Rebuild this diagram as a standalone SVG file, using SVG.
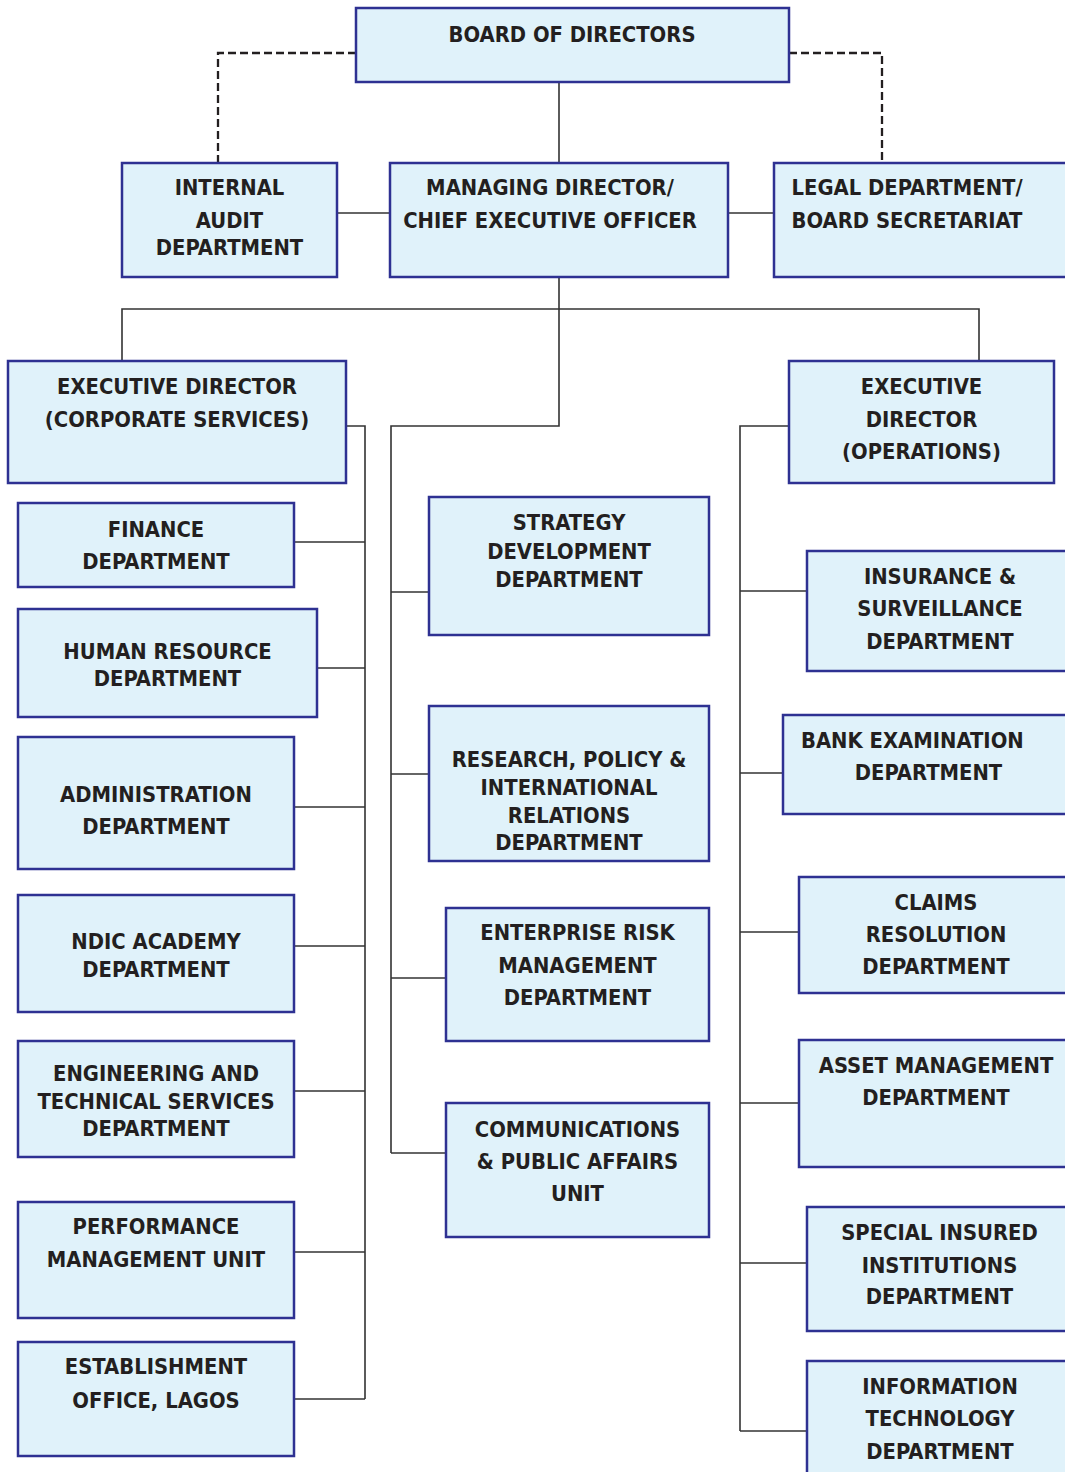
<svg xmlns="http://www.w3.org/2000/svg" width="1065" height="1472" viewBox="0 0 1065 1472">
  <style>
    .box { fill: #e0f2fa; stroke: #2e3192; stroke-width: 2.5; }
    .lbl { font-family: "DejaVu Sans Condensed", "DejaVu Sans", sans-serif; font-stretch: condensed; font-weight: bold; font-size: 21.8px; fill: #231f20; text-anchor: middle; }
    .left { text-anchor: start; }
    .wire { fill: none; stroke: #333333; stroke-width: 1.6; }
    .dash { fill: none; stroke: #231f20; stroke-width: 2.3; stroke-dasharray: 8 4; }
  </style>
  <rect width="1065" height="1472" fill="#ffffff"/>

  <!-- connectors -->
  <g id="connectors">
    <path class="dash" d="M356 53 H218 V162"/>
    <path class="dash" d="M789 53 H882 V162"/>
    <path class="wire" d="M559 83 V162"/>
    <path class="wire" d="M337 213 H390"/>
    <path class="wire" d="M728 213 H774"/>
    <path class="wire" d="M559 278 V426 H391 V1153"/>
    <path class="wire" d="M122 361 V309 H979 V361"/>
    <!-- corporate services branch -->
    <path class="wire" d="M346 426 H365 V1399"/>
    <path class="wire" d="M294 542 H365"/>
    <path class="wire" d="M317 668 H365"/>
    <path class="wire" d="M294 807 H365"/>
    <path class="wire" d="M294 946 H365"/>
    <path class="wire" d="M294 1091 H365"/>
    <path class="wire" d="M294 1252 H365"/>
    <path class="wire" d="M294 1399 H365"/>
    <!-- managing director branch -->
    <path class="wire" d="M391 592 H429"/>
    <path class="wire" d="M391 774 H429"/>
    <path class="wire" d="M391 978 H446"/>
    <path class="wire" d="M391 1153 H446"/>
    <!-- operations branch -->
    <path class="wire" d="M789 426 H740 V1431"/>
    <path class="wire" d="M740 591 H807"/>
    <path class="wire" d="M740 773 H783"/>
    <path class="wire" d="M740 932 H799"/>
    <path class="wire" d="M740 1103 H799"/>
    <path class="wire" d="M740 1263 H807"/>
    <path class="wire" d="M740 1431 H807"/>
  </g>

  <g id="board">
    <rect class="box" x="356" y="8" width="433" height="74"/>
    <text class="lbl" x="572" y="41.5">BOARD OF DIRECTORS</text>
  </g>
  <g id="internal-audit">
    <rect class="box" x="122" y="163" width="215" height="114"/>
    <text class="lbl" x="229.5" y="195">INTERNAL</text>
    <text class="lbl" x="229.5" y="227.5">AUDIT</text>
    <text class="lbl" x="229.5" y="255">DEPARTMENT</text>
  </g>
  <g id="md-ceo">
    <rect class="box" x="390" y="163" width="338" height="114"/>
    <text class="lbl" x="550" y="195">MANAGING DIRECTOR/</text>
    <text class="lbl" x="550" y="227.5">CHIEF EXECUTIVE OFFICER</text>
  </g>
  <g id="legal">
    <rect class="box" x="774" y="163" width="300" height="114"/>
    <text class="lbl left" x="791.5" y="195">LEGAL DEPARTMENT/</text>
    <text class="lbl left" x="791.5" y="227.5">BOARD SECRETARIAT</text>
  </g>

  <g id="ed-corporate">
    <rect class="box" x="8" y="361" width="338" height="122"/>
    <text class="lbl" x="177" y="394">EXECUTIVE DIRECTOR</text>
    <text class="lbl" x="177" y="426.5">(CORPORATE SERVICES)</text>
  </g>
  <g id="ed-operations">
    <rect class="box" x="789" y="361" width="265" height="122"/>
    <text class="lbl" x="921.5" y="394">EXECUTIVE</text>
    <text class="lbl" x="921.5" y="426.5">DIRECTOR</text>
    <text class="lbl" x="921.5" y="459">(OPERATIONS)</text>
  </g>

  <g id="finance">
    <rect class="box" x="18" y="503" width="276" height="84"/>
    <text class="lbl" x="156" y="536.5">FINANCE</text>
    <text class="lbl" x="156" y="568.5">DEPARTMENT</text>
  </g>
  <g id="human-resource">
    <rect class="box" x="18" y="609" width="299" height="108"/>
    <text class="lbl" x="167.5" y="658.5">HUMAN RESOURCE</text>
    <text class="lbl" x="167.5" y="686">DEPARTMENT</text>
  </g>
  <g id="administration">
    <rect class="box" x="18" y="737" width="276" height="132"/>
    <text class="lbl" x="156" y="801.5">ADMINISTRATION</text>
    <text class="lbl" x="156" y="833.5">DEPARTMENT</text>
  </g>
  <g id="ndic-academy">
    <rect class="box" x="18" y="895" width="276" height="117"/>
    <text class="lbl" x="156" y="949">NDIC ACADEMY</text>
    <text class="lbl" x="156" y="976.5">DEPARTMENT</text>
  </g>
  <g id="engineering">
    <rect class="box" x="18" y="1041" width="276" height="116"/>
    <text class="lbl" x="156" y="1080.5">ENGINEERING AND</text>
    <text class="lbl" x="156" y="1108.5">TECHNICAL SERVICES</text>
    <text class="lbl" x="156" y="1136">DEPARTMENT</text>
  </g>
  <g id="performance">
    <rect class="box" x="18" y="1202" width="276" height="116"/>
    <text class="lbl" x="156" y="1233.5">PERFORMANCE</text>
    <text class="lbl" x="156" y="1266.5">MANAGEMENT UNIT</text>
  </g>
  <g id="establishment">
    <rect class="box" x="18" y="1342" width="276" height="114"/>
    <text class="lbl" x="156" y="1374">ESTABLISHMENT</text>
    <text class="lbl" x="156" y="1407.5">OFFICE, LAGOS</text>
  </g>

  <g id="strategy">
    <rect class="box" x="429" y="497" width="280" height="138"/>
    <text class="lbl" x="569" y="530">STRATEGY</text>
    <text class="lbl" x="569" y="558.5">DEVELOPMENT</text>
    <text class="lbl" x="569" y="586.5">DEPARTMENT</text>
  </g>
  <g id="research">
    <rect class="box" x="429" y="706" width="280" height="155"/>
    <text class="lbl" x="569" y="766.5">RESEARCH, POLICY &amp;</text>
    <text class="lbl" x="569" y="794.5">INTERNATIONAL</text>
    <text class="lbl" x="569" y="822.5">RELATIONS</text>
    <text class="lbl" x="569" y="850">DEPARTMENT</text>
  </g>
  <g id="enterprise-risk">
    <rect class="box" x="446" y="908" width="263" height="133"/>
    <text class="lbl" x="577.5" y="940">ENTERPRISE RISK</text>
    <text class="lbl" x="577.5" y="972.5">MANAGEMENT</text>
    <text class="lbl" x="577.5" y="1005">DEPARTMENT</text>
  </g>
  <g id="communications">
    <rect class="box" x="446" y="1103" width="263" height="134"/>
    <text class="lbl" x="577.5" y="1136.5">COMMUNICATIONS</text>
    <text class="lbl" x="577.5" y="1168.5">&amp; PUBLIC AFFAIRS</text>
    <text class="lbl" x="577.5" y="1200.5">UNIT</text>
  </g>

  <g id="insurance">
    <rect class="box" x="807" y="551" width="270" height="120"/>
    <text class="lbl" x="940" y="583.5">INSURANCE &amp;</text>
    <text class="lbl" x="940" y="616">SURVEILLANCE</text>
    <text class="lbl" x="940" y="648.5">DEPARTMENT</text>
  </g>
  <g id="bank-examination">
    <rect class="box" x="783" y="715" width="294" height="99"/>
    <text class="lbl left" x="801" y="747.5">BANK EXAMINATION</text>
    <text class="lbl" x="928.5" y="779.5">DEPARTMENT</text>
  </g>
  <g id="claims">
    <rect class="box" x="799" y="877" width="278" height="116"/>
    <text class="lbl" x="936" y="910">CLAIMS</text>
    <text class="lbl" x="936" y="941.5">RESOLUTION</text>
    <text class="lbl" x="936" y="974">DEPARTMENT</text>
  </g>
  <g id="asset-management">
    <rect class="box" x="799" y="1040" width="278" height="127"/>
    <text class="lbl" x="936" y="1072.5">ASSET MANAGEMENT</text>
    <text class="lbl" x="936" y="1105">DEPARTMENT</text>
  </g>
  <g id="special-insured">
    <rect class="box" x="807" y="1207" width="270" height="124"/>
    <text class="lbl" x="939.5" y="1240">SPECIAL INSURED</text>
    <text class="lbl" x="939.5" y="1272.5">INSTITUTIONS</text>
    <text class="lbl" x="939.5" y="1304">DEPARTMENT</text>
  </g>
  <g id="information-technology">
    <rect class="box" x="807" y="1361" width="270" height="130"/>
    <text class="lbl" x="940" y="1393.5">INFORMATION</text>
    <text class="lbl" x="940" y="1426">TECHNOLOGY</text>
    <text class="lbl" x="940" y="1458.5">DEPARTMENT</text>
  </g>
</svg>
